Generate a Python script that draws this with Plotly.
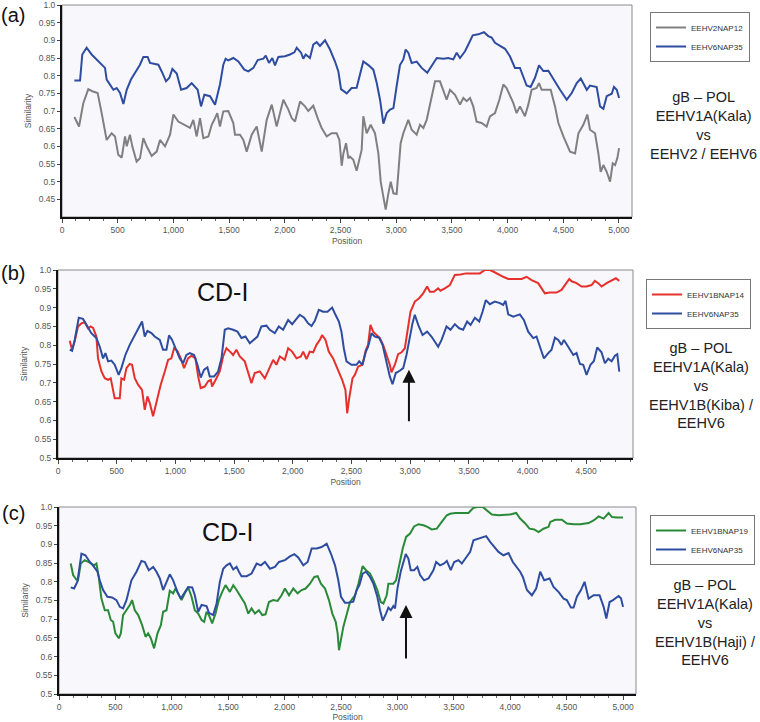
import plotly.graph_objects as go

# ---------------- data ----------------
# Panel (a)
a_blue_x = [111,162,182,221,266,311,356,386,401,431,461,491,521,551,581,619,670,700,730,769,790,865,895,934,964,991,1030,1069,1119,1164,1218,1248,1278,1329,1374,1418,1448,1469,1493,1538,1583,1637,1673,1718,1757,1808,1829,1858,1888,1912,1942,2002,2047,2086,2107,2146,2166,2187,2226,2256,2286,2316,2361,2406,2451,2481,2505,2541,2556,2600,2645,2675,2705,2750,2795,2825,2855,2885,2915,2945,2975,3004,3034,3064,3085,3109,3139,3184,3229,3279,3319,3364,3423,3468,3513,3543,3573,3618,3648,3687,3737,3788,3827,3857,3887,3932,3977,4021,4066,4111,4141,4171,4207,4246,4282,4321,4366,4411,4471,4531,4576,4621,4657,4711,4740,4800,4830,4860,4890,4935,4955,4980,5001]
a_blue_y = [0.786,0.786,0.86,0.879,0.86,0.846,0.831,0.822,0.789,0.775,0.76,0.765,0.751,0.72,0.76,0.789,0.817,0.831,0.853,0.853,0.836,0.831,0.812,0.784,0.794,0.819,0.806,0.76,0.765,0.779,0.76,0.713,0.746,0.742,0.718,0.775,0.831,0.848,0.843,0.85,0.84,0.817,0.812,0.822,0.844,0.848,0.857,0.836,0.85,0.829,0.853,0.855,0.86,0.866,0.879,0.865,0.848,0.86,0.85,0.888,0.895,0.884,0.9,0.874,0.84,0.812,0.762,0.753,0.75,0.765,0.766,0.803,0.84,0.83,0.817,0.78,0.732,0.664,0.694,0.704,0.708,0.77,0.83,0.846,0.874,0.865,0.836,0.84,0.822,0.808,0.827,0.85,0.848,0.85,0.846,0.865,0.85,0.869,0.888,0.914,0.917,0.923,0.912,0.908,0.893,0.884,0.876,0.855,0.822,0.822,0.798,0.772,0.768,0.794,0.829,0.813,0.814,0.789,0.76,0.732,0.751,0.779,0.792,0.76,0.772,0.768,0.713,0.706,0.742,0.749,0.768,0.76,0.737]
a_gray_x = [111,153,191,236,272,320,356,401,446,476,505,536,566,581,610,631,670,700,730,760,805,850,880,925,970,1000,1044,1104,1149,1179,1209,1239,1269,1314,1344,1367,1394,1418,1448,1493,1538,1553,1598,1628,1658,1703,1748,1793,1838,1883,1927,1987,2032,2062,2092,2137,2182,2211,2256,2301,2331,2376,2421,2466,2490,2511,2526,2550,2571,2585,2615,2645,2675,2690,2705,2735,2771,2810,2840,2861,2885,2906,2930,2951,2975,3004,3019,3040,3064,3109,3139,3184,3214,3244,3274,3310,3349,3393,3423,3453,3483,3528,3573,3603,3633,3663,3692,3722,3767,3812,3842,3887,3926,3962,3991,4021,4051,4081,4111,4156,4186,4216,4261,4282,4306,4351,4387,4426,4456,4501,4561,4606,4636,4680,4716,4740,4785,4815,4836,4860,4890,4920,4944,4965,4985,5001]
a_gray_y = [0.683,0.656,0.722,0.762,0.756,0.751,0.694,0.618,0.637,0.628,0.576,0.568,0.628,0.6,0.633,0.6,0.557,0.566,0.623,0.6,0.573,0.585,0.618,0.6,0.633,0.69,0.67,0.661,0.652,0.675,0.628,0.68,0.623,0.628,0.661,0.675,0.694,0.656,0.699,0.7,0.666,0.633,0.633,0.618,0.585,0.633,0.656,0.585,0.675,0.718,0.656,0.732,0.704,0.68,0.67,0.727,0.713,0.7,0.715,0.675,0.652,0.628,0.637,0.637,0.618,0.545,0.58,0.609,0.566,0.571,0.562,0.531,0.571,0.59,0.685,0.637,0.661,0.637,0.58,0.5,0.457,0.421,0.467,0.5,0.467,0.465,0.524,0.609,0.637,0.675,0.647,0.633,0.661,0.652,0.675,0.732,0.784,0.784,0.76,0.732,0.76,0.746,0.718,0.737,0.728,0.737,0.713,0.67,0.666,0.656,0.685,0.694,0.732,0.775,0.765,0.742,0.723,0.694,0.713,0.685,0.718,0.76,0.765,0.779,0.76,0.76,0.76,0.713,0.666,0.628,0.585,0.58,0.637,0.661,0.69,0.647,0.637,0.58,0.528,0.547,0.528,0.5,0.552,0.547,0.566,0.595]

# Panel (b)
b_blue_x = [100,120,142,177,213,242,284,327,356,384,404,427,455,483,517,540,574,611,654,688,716,739,762,796,824,867,895,924,946,972,1009,1037,1066,1094,1123,1160,1188,1216,1245,1273,1293,1330,1364,1393,1421,1449,1492,1529,1563,1597,1634,1662,1699,1733,1776,1804,1847,1881,1918,1961,1995,2023,2060,2097,2131,2160,2188,2222,2259,2296,2336,2358,2393,2415,2435,2458,2500,2543,2566,2594,2623,2642,2671,2699,2736,2765,2799,2827,2850,2878,2912,2941,2969,2998,3020,3040,3069,3106,3145,3182,3211,3239,3268,3310,3344,3381,3418,3452,3486,3515,3552,3589,3617,3645,3679,3722,3765,3793,3813,3836,3878,3935,3969,4006,4049,4077,4106,4140,4177,4205,4234,4262,4290,4310,4347,4390,4418,4447,4475,4503,4537,4566,4594,4631,4660,4688,4717,4745,4765,4782]
b_blue_y = [0.788,0.785,0.814,0.873,0.87,0.854,0.832,0.819,0.796,0.765,0.779,0.757,0.759,0.748,0.721,0.739,0.774,0.801,0.827,0.85,0.863,0.823,0.838,0.832,0.823,0.814,0.788,0.788,0.826,0.814,0.783,0.765,0.752,0.774,0.779,0.774,0.748,0.714,0.735,0.741,0.717,0.717,0.73,0.765,0.841,0.845,0.841,0.836,0.819,0.823,0.805,0.814,0.823,0.85,0.852,0.841,0.832,0.85,0.841,0.867,0.856,0.867,0.881,0.873,0.858,0.851,0.865,0.894,0.889,0.889,0.9,0.885,0.863,0.836,0.792,0.757,0.748,0.748,0.757,0.748,0.783,0.796,0.832,0.823,0.82,0.801,0.757,0.717,0.696,0.726,0.732,0.739,0.774,0.823,0.858,0.881,0.854,0.827,0.836,0.823,0.81,0.796,0.814,0.85,0.841,0.856,0.845,0.841,0.863,0.854,0.873,0.863,0.889,0.92,0.909,0.916,0.912,0.907,0.918,0.882,0.876,0.882,0.867,0.836,0.819,0.823,0.796,0.765,0.779,0.788,0.82,0.814,0.801,0.814,0.796,0.774,0.779,0.75,0.748,0.721,0.748,0.758,0.794,0.781,0.752,0.764,0.757,0.772,0.776,0.73]
b_red_x = [100,120,142,171,199,228,256,279,299,327,341,370,398,427,449,469,483,526,540,563,583,611,631,654,682,716,739,762,782,810,839,875,910,938,966,989,1017,1046,1074,1108,1137,1171,1194,1216,1250,1279,1302,1313,1350,1378,1407,1435,1472,1492,1520,1549,1591,1620,1648,1676,1719,1762,1804,1833,1861,1890,1932,1961,1995,2032,2069,2089,2117,2145,2174,2202,2231,2250,2279,2307,2344,2381,2421,2449,2464,2481,2509,2529,2557,2594,2623,2642,2662,2685,2714,2742,2770,2799,2827,2841,2870,2898,2927,2955,2984,3003,3040,3077,3111,3145,3168,3202,3239,3259,3296,3339,3381,3430,3475,3537,3594,3637,3679,3708,3750,3793,3836,3893,3950,3992,4035,4091,4128,4148,4191,4248,4290,4333,4356,4376,4418,4461,4503,4546,4574,4603,4631,4674,4717,4753,4782]
b_red_y = [0.812,0.788,0.81,0.85,0.858,0.861,0.845,0.85,0.846,0.823,0.765,0.73,0.712,0.708,0.712,0.681,0.659,0.659,0.712,0.708,0.739,0.75,0.748,0.712,0.695,0.681,0.628,0.664,0.646,0.611,0.65,0.695,0.73,0.761,0.765,0.792,0.785,0.765,0.739,0.765,0.772,0.765,0.717,0.686,0.69,0.704,0.708,0.69,0.712,0.73,0.77,0.792,0.781,0.774,0.788,0.77,0.757,0.73,0.699,0.726,0.73,0.712,0.739,0.761,0.748,0.77,0.761,0.792,0.783,0.765,0.77,0.783,0.763,0.783,0.781,0.801,0.814,0.827,0.814,0.783,0.765,0.739,0.708,0.681,0.619,0.659,0.712,0.721,0.743,0.748,0.788,0.801,0.854,0.836,0.827,0.819,0.801,0.774,0.748,0.728,0.748,0.776,0.781,0.792,0.845,0.889,0.916,0.925,0.938,0.956,0.942,0.942,0.951,0.945,0.951,0.96,0.987,0.988,0.991,0.991,0.991,1.0,1.0,0.996,0.988,0.982,0.976,0.976,0.976,0.982,0.973,0.965,0.947,0.938,0.94,0.94,0.947,0.965,0.976,0.97,0.965,0.956,0.956,0.96,0.971,0.965,0.956,0.965,0.973,0.978,0.971]

# Panel (c)
c_blue_x = [104,134,163,199,234,273,311,341,361,391,429,471,509,539,568,598,642,687,731,761,796,835,864,894,923,953,982,1012,1050,1080,1116,1145,1181,1204,1234,1264,1308,1329,1367,1397,1426,1456,1485,1515,1545,1574,1595,1618,1663,1707,1752,1790,1826,1870,1914,1950,2003,2047,2086,2121,2166,2204,2240,2284,2328,2373,2411,2447,2476,2500,2535,2565,2609,2639,2663,2692,2722,2757,2787,2822,2846,2870,2899,2920,2941,2964,2979,3000,3029,3053,3074,3097,3118,3148,3177,3201,3236,3275,3319,3343,3378,3414,3438,3473,3503,3541,3571,3609,3645,3674,3719,3757,3787,3822,3858,3896,3940,3985,4023,4053,4088,4112,4148,4192,4230,4266,4301,4349,4384,4428,4473,4502,4538,4562,4591,4627,4659,4695,4739,4792,4828,4852,4881,4911,4961,4982,5000]
c_blue_y = [0.785,0.782,0.8,0.875,0.871,0.853,0.84,0.827,0.804,0.778,0.76,0.758,0.751,0.733,0.729,0.751,0.804,0.827,0.856,0.853,0.831,0.84,0.827,0.809,0.778,0.8,0.82,0.804,0.773,0.755,0.773,0.786,0.785,0.764,0.72,0.738,0.735,0.717,0.711,0.742,0.8,0.835,0.844,0.849,0.833,0.84,0.827,0.815,0.815,0.822,0.849,0.844,0.853,0.835,0.84,0.853,0.858,0.868,0.874,0.865,0.844,0.853,0.889,0.889,0.893,0.902,0.875,0.844,0.804,0.76,0.744,0.744,0.747,0.778,0.791,0.822,0.827,0.813,0.795,0.76,0.724,0.696,0.715,0.731,0.724,0.735,0.729,0.782,0.827,0.853,0.874,0.862,0.831,0.831,0.84,0.818,0.804,0.809,0.831,0.853,0.844,0.849,0.856,0.831,0.853,0.858,0.849,0.865,0.88,0.911,0.915,0.92,0.922,0.907,0.893,0.88,0.871,0.877,0.853,0.84,0.827,0.813,0.778,0.764,0.782,0.827,0.804,0.809,0.786,0.773,0.755,0.751,0.731,0.731,0.76,0.778,0.8,0.755,0.764,0.764,0.733,0.702,0.746,0.751,0.762,0.756,0.733]
c_green_x = [104,125,154,169,193,228,273,311,332,352,376,406,435,459,480,500,530,548,568,598,628,648,672,702,737,767,790,814,843,873,903,923,953,982,1012,1033,1062,1086,1122,1145,1175,1204,1234,1264,1287,1308,1329,1358,1388,1417,1447,1476,1515,1545,1574,1613,1648,1678,1707,1737,1772,1802,1831,1861,1899,1938,1973,2003,2039,2077,2115,2151,2186,2225,2263,2293,2322,2358,2393,2423,2453,2470,2482,2521,2550,2580,2624,2654,2692,2722,2757,2787,2822,2852,2876,2905,2920,2964,2988,3018,3047,3077,3112,3148,3186,3231,3266,3304,3349,3393,3438,3467,3512,3571,3630,3674,3710,3757,3792,3837,3896,3955,4000,4053,4088,4133,4171,4213,4251,4295,4340,4355,4399,4458,4502,4562,4621,4695,4739,4784,4828,4872,4902,4946,5000]
c_green_y = [0.849,0.818,0.806,0.805,0.849,0.858,0.851,0.844,0.849,0.813,0.755,0.724,0.724,0.698,0.693,0.662,0.649,0.662,0.711,0.724,0.738,0.751,0.724,0.711,0.684,0.653,0.662,0.649,0.622,0.662,0.684,0.72,0.724,0.776,0.769,0.782,0.764,0.751,0.773,0.785,0.76,0.724,0.715,0.698,0.693,0.72,0.711,0.689,0.715,0.751,0.773,0.791,0.773,0.791,0.778,0.76,0.742,0.715,0.729,0.715,0.724,0.711,0.713,0.746,0.751,0.749,0.764,0.782,0.764,0.782,0.769,0.778,0.782,0.795,0.813,0.815,0.795,0.782,0.751,0.715,0.693,0.662,0.617,0.68,0.715,0.746,0.764,0.795,0.842,0.831,0.822,0.804,0.778,0.746,0.742,0.764,0.795,0.795,0.804,0.849,0.889,0.92,0.929,0.948,0.954,0.951,0.947,0.94,0.942,0.96,0.978,0.982,0.984,0.984,0.984,0.998,1.0,1.0,0.991,0.98,0.978,0.978,0.98,0.984,0.969,0.956,0.942,0.94,0.933,0.942,0.947,0.96,0.966,0.966,0.956,0.954,0.954,0.957,0.964,0.975,0.969,0.984,0.973,0.972,0.972]

for xs, ys in [(a_blue_x, a_blue_y), (a_gray_x, a_gray_y), (b_blue_x, b_blue_y),
               (b_red_x, b_red_y), (c_blue_x, c_blue_y), (c_green_x, c_green_y)]:
    assert len(xs) == len(ys), (len(xs), len(ys))

series_names = {"gray": "EEHV2NAP12", "blue": "EEHV6NAP35", "red": "EEHV1BNAP14", "green": "EEHV1BNAP19"}
a_yticks = [0.45, 0.5, 0.55, 0.6, 0.65, 0.7, 0.75, 0.8, 0.85, 0.9, 0.95, 1.0]
a_yticktext = ["0.45", "0.5", "0.55", "0.6", "0.65", "0.7", "0.75", "0.8", "0.85", "0.9", "0.95", "1.0"]
bc_yticks = [0.5, 0.55, 0.6, 0.65, 0.7, 0.75, 0.8, 0.85, 0.9, 0.95, 1.0]
bc_yticktext = ["0.5", "0.55", "0.6", "0.65", "0.7", "0.75", "0.8", "0.85", "0.9", "0.95", "1.0"]
panel_labels = ["(a)", "(b)", "(c)"]
side_texts = ["gB – POL<br>EEHV1A(Kala)<br>vs<br>EEHV2 / EEHV6",
              "gB – POL<br>EEHV1A(Kala)<br>vs<br>EEHV1B(Kiba) /<br>EEHV6",
              "gB – POL<br>EEHV1A(Kala)<br>vs<br>EEHV1B(Haji) /<br>EEHV6"]
arrow_b = (2990, 0.735, 0.594)
arrow_c = (3076, 0.738, 0.591)

# ---------------- style ----------------
W, H = 760, 722
BLUE = "#2E4DA0"
GRAY = "#808080"
RED = "#E5302C"
GREEN = "#2A8A38"
FONT = "Liberation Sans, Arial, sans-serif"
TICKC = "#555555"

def px_x(p):
    return p / W

def px_y(p):
    return 1 - p / H

fig = go.Figure()

def add_line(x, y, name, color, ax, legend):
    fig.add_trace(go.Scatter(x=x, y=y, mode="lines", name=name,
                             line=dict(color=color, width=2),
                             xaxis=ax[0], yaxis=ax[1], legend=legend,
                             hoverinfo="skip"))

add_line(a_gray_x, a_gray_y, series_names["gray"], GRAY, ("x", "y"), "legend")
add_line(a_blue_x, a_blue_y, series_names["blue"], BLUE, ("x", "y"), "legend")
add_line(b_red_x, b_red_y, series_names["red"], RED, ("x2", "y2"), "legend2")
add_line(b_blue_x, b_blue_y, series_names["blue"], BLUE, ("x2", "y2"), "legend2")
add_line(c_green_x, c_green_y, series_names["green"], GREEN, ("x3", "y3"), "legend3")
add_line(c_blue_x, c_blue_y, series_names["blue"], BLUE, ("x3", "y3"), "legend3")

# plot boxes in pixel coords: (left, top, right, bottom)
boxes = [(62, 5, 632, 217), (58, 270, 633, 458), (59, 507, 636, 694)]
xranges = [[0, 5117], [0, 4899], [0, 5115]]
yranges = [[0.4, 1.0], [0.5, 1.0], [0.5, 1.0]]
yticks = [(a_yticks, a_yticktext), (bc_yticks, bc_yticktext), (bc_yticks, bc_yticktext)]

layout = dict(
    width=W, height=H, autosize=False,
    margin=dict(l=0, r=0, t=0, b=0, autoexpand=False),
    paper_bgcolor="white", plot_bgcolor="#F8F7FC",
    font=dict(family=FONT, color="#222"),
    showlegend=True,
)

for i, (l, t, r, b) in enumerate(boxes):
    sx = "" if i == 0 else str(i + 1)
    layout["xaxis" + sx] = dict(
        domain=[px_x(l), px_x(r)], anchor="y" + sx, range=xranges[i],
        automargin=False, ticklabeloverflow="allow",
        tickmode="linear", tick0=0, dtick=500, tickformat=",d",
        ticks="outside", ticklen=4, tickcolor="#444", tickwidth=1,
        minor=dict(dtick=125, ticks="outside", ticklen=2, tickcolor="#666", showgrid=False),
        showgrid=False, zeroline=False,
        showline=True, linecolor="#111", linewidth=2, mirror=False,
        tickfont=dict(size=8.5, color=TICKC, family=FONT),
        title=dict(text="Position", font=dict(size=8.5, color=TICKC, family=FONT), standoff=4),
        fixedrange=True,
    )
    tv, tt = yticks[i]
    layout["yaxis" + sx] = dict(
        domain=[px_y(b), px_y(t)], anchor="x" + sx, range=yranges[i],
        automargin=False, ticklabeloverflow="allow",
        tickmode="array", tickvals=tv, ticktext=tt,
        ticks="outside", ticklen=3, tickcolor="#444", tickwidth=1,
        showgrid=False, zeroline=False,
        showline=True, linecolor="#111", linewidth=2, mirror=False,
        tickfont=dict(size=8.5, color=TICKC, family=FONT),
        title=dict(text="Similarity", font=dict(size=8.5, color=TICKC, family=FONT), standoff=6),
        fixedrange=True,
    )

legend_pos = [(750, 12), (751, 279), (755, 515)]
for i, (lx, ly) in enumerate(legend_pos):
    key = "legend" if i == 0 else "legend" + str(i + 1)
    layout[key] = dict(
        x=px_x(lx), y=px_y(ly), xanchor="right", yanchor="top",
        bgcolor="white", bordercolor="#777", borderwidth=1,
        font=dict(size=8, color="#333", family=FONT),
        itemwidth=30, tracegroupgap=0, traceorder="normal",
    )

fig.update_layout(**layout)

# frames (gray top/right border)
for i in range(3):
    sx = "" if i == 0 else str(i + 1)
    fig.add_shape(type="rect", xref="x" + sx + " domain", yref="y" + sx + " domain",
                  x0=0, x1=1, y0=0, y1=1, line=dict(color="#8a8a8a", width=1), layer="below")

def label(txt, x, y, size, color="#111", align="center"):
    fig.add_annotation(text=txt, x=px_x(x), y=px_y(y), xref="paper", yref="paper",
                       xanchor="center", yanchor="middle", align=align,
                       showarrow=False, font=dict(size=size, color=color, family=FONT))

# panel labels
for txt, (lx, ly) in zip(panel_labels, [(13, 15), (13, 273), (13, 513)]):
    label(txt, lx, ly, 20)

# right side descriptions
for txt, (sx_, sy_) in zip(side_texts, [(703, 125), (701, 385), (705, 622)]):
    label(txt, sx_, sy_, 14.5, color="#222")

# CD-I labels
for (cx, cy) in [(222, 292), (227, 532)]:
    label("CD-I", cx, cy, 25)

# arrows
for (ax_, ay_), (xv, yhead, ytail) in [(("x2", "y2"), arrow_b), (("x3", "y3"), arrow_c)]:
    fig.add_annotation(text="", x=xv, y=yhead, xref=ax_, yref=ay_,
                       ax=xv, ay=ytail, axref=ax_, ayref=ay_,
                       showarrow=True, arrowhead=2, arrowsize=1.3, arrowwidth=2,
                       arrowcolor="#111")

fig.write_html(
    "out.html",
    config={"displayModeBar": False},
    post_script="document.body.style.margin='0px';document.body.style.padding='0px';"
                "document.documentElement.style.overflow='hidden';",
)
